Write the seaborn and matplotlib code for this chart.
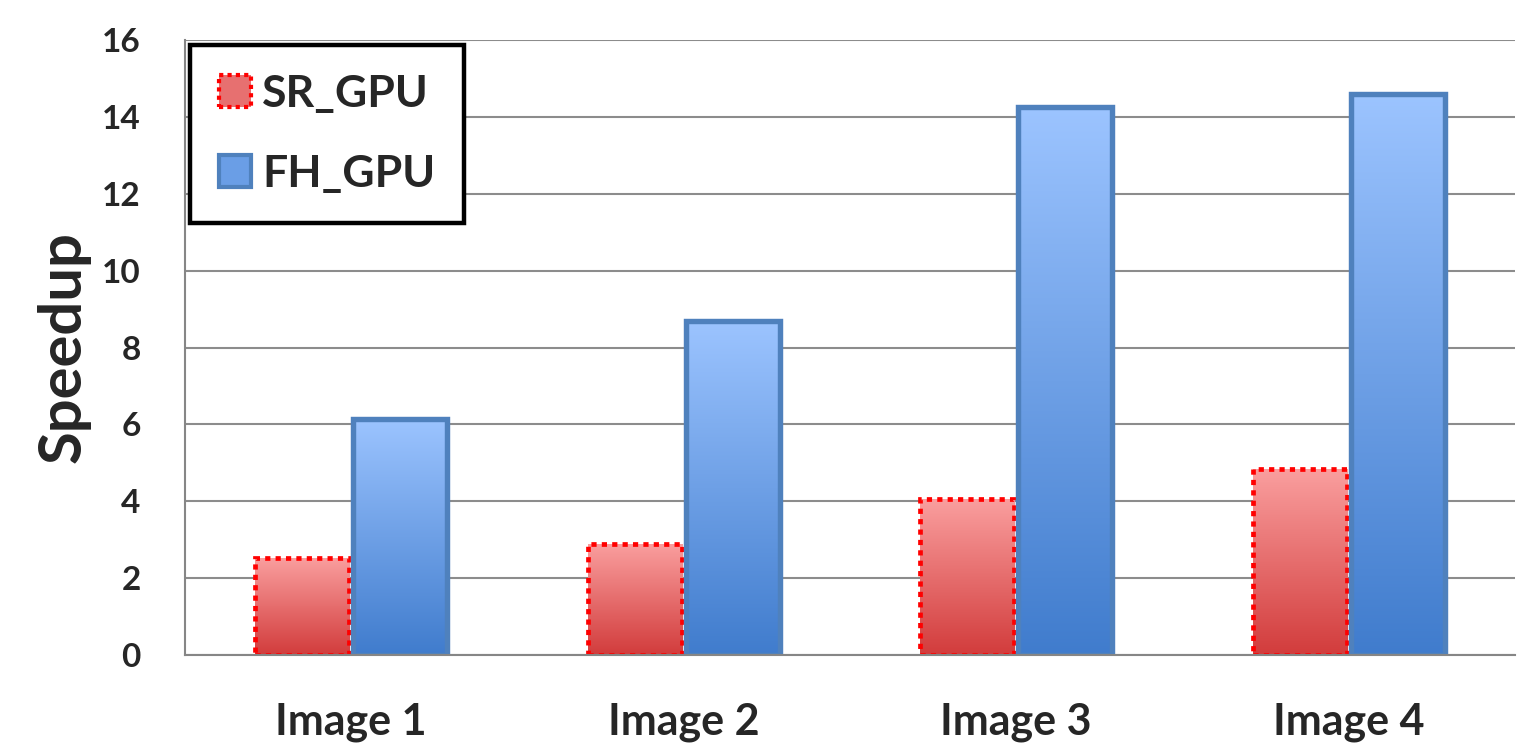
import numpy as np
import pandas as pd
import matplotlib
matplotlib.use("Agg")
import matplotlib.pyplot as plt
import seaborn as sns
from matplotlib.colors import LinearSegmentedColormap
from matplotlib.patches import Patch

# values
images = ["Image 1", "Image 2", "Image 3", "Image 4"]
sr_gpu = [2.53, 2.90, 4.07, 4.85]
fh_gpu = [6.15, 8.68, 14.25, 14.60]
series = ["SR_GPU", "FH_GPU"]
yticks = [0, 2, 4, 6, 8, 10, 12, 14, 16]

df = pd.DataFrame({
    "Image": images * 2,
    "Speedup": sr_gpu + fh_gpu,
    "Method": ["SR_GPU"] * len(images) + ["FH_GPU"] * len(images),
})

sns.set_style("white")
plt.rcParams["font.family"] = ["Lato", "DejaVu Sans"]
plt.rcParams["font.weight"] = "bold"

fig = plt.figure(figsize=(15.18, 7.53), dpi=100)
ax = fig.add_axes([0.1219, 0.130, 0.8761, 0.817])

sns.barplot(data=df, x="Image", y="Speedup", hue="Method", hue_order=series,
            width=0.59, gap=0.04, ax=ax, legend=False)

red_cmap = LinearSegmentedColormap.from_list("red", ["#d23c3c", "#fa9f9f"])
blue_cmap = LinearSegmentedColormap.from_list("blue", ["#407ccd", "#9cc4ff"])
grad = np.linspace(0, 1, 256).reshape(-1, 1)

# gradient fill clipped to each bar, bar itself keeps only the outline
for container, cmap, name in zip(ax.containers, [red_cmap, blue_cmap], series):
    for bar in container:
        x0, y0 = bar.get_xy()
        w, h = bar.get_width(), bar.get_height()
        im = ax.imshow(grad, extent=[x0, x0 + w, y0, y0 + h], cmap=cmap,
                       aspect="auto", origin="lower", zorder=1.5)
        im.set_clip_path(bar)
        bar.set_facecolor("none")
        bar.set_zorder(2)
        if name == "SR_GPU":
            bar.set_edgecolor("#ff0000")
            bar.set_linewidth(3.4)
            bar.set_linestyle((0, (1.1, 1.1)))
        else:
            bar.set_edgecolor("#4f81bd")
            bar.set_linewidth(3.9)

ax.set_xlim(-0.5, 3.5)
ax.set_ylim(0, 16)
ax.set_yticks(yticks)
ax.set_yticklabels([str(v) for v in yticks], fontsize=24, fontweight="bold")
ax.set_xticks(range(len(images)))
ax.set_xticklabels(images, fontsize=31, fontweight="bold")
ax.set_xticks(np.arange(-0.5, 4, 1), minor=True)
ax.tick_params(axis="x", which="major", length=0, pad=34)
ax.tick_params(axis="x", which="minor", length=14, width=1.2, color="#868686", direction="out")
ax.tick_params(axis="y", length=12, width=1.2, color="#868686", direction="out", pad=20)

ax.set_axisbelow(True)
ax.yaxis.grid(True, color="#8c8c8c", linewidth=1.5)
ax.xaxis.grid(False)
for side in ["top", "right"]:
    ax.spines[side].set_visible(False)
for side in ["left", "bottom"]:
    ax.spines[side].set_color("#868686")
    ax.spines[side].set_linewidth(1.5)

ax.set_xlabel("")
ax.set_ylabel("Speedup", fontsize=43, fontweight="bold", labelpad=8)

handles = [
    Patch(facecolor="#e77070", edgecolor="#ff0000", linewidth=3, linestyle=(0, (1, 1))),
    Patch(facecolor="#6a9ee6", edgecolor="#4f81bd", linewidth=3),
]
leg = ax.legend(handles, series, loc="upper left", bbox_to_anchor=(0.004, 0.992),
                borderaxespad=0, fancybox=False, framealpha=1, edgecolor="black",
                prop={"size": 32, "weight": "bold"}, handlelength=0.72, handleheight=0.72,
                handletextpad=0.25, labelspacing=0.9, borderpad=0.65)
leg.get_frame().set_linewidth(3.2)

fig.savefig("out.png", dpi=100)
